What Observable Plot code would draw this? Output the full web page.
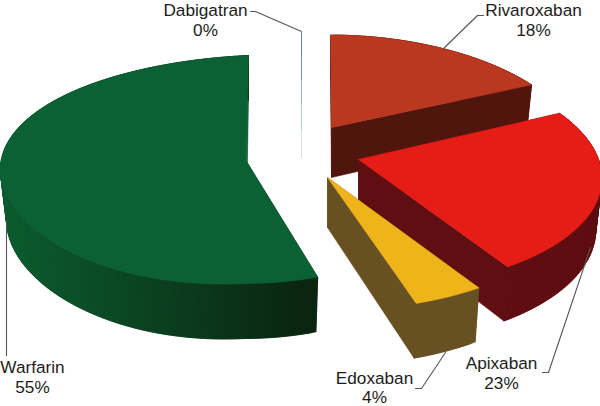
<!DOCTYPE html>
<html>
<head>
<meta charset="utf-8">
<style>html,body{margin:0;padding:0;background:#fff}svg{display:block}</style>
<script src="https://cdn.jsdelivr.net/npm/d3@7"></script>
<script src="https://cdn.jsdelivr.net/npm/@observablehq/plot@0.6"></script>
</head>
<body>
<div id="chart"></div>
<script>
// Data, clockwise from 12 o'clock
const drugs = ["Rivaroxaban", "Apixaban", "Edoxaban", "Warfarin", "Dabigatran"];
const shares = [18, 23, 4, 55, 0];

// Colours per drug
const topColors = ["#ba381f", "#e51d16", "#f0b41b", "#0c6134", "#5b8a92"];
const sideFrom = ["#50150d", "#5f0e12", "#675022", "#0c5c2f", "#5b8a92"];
const sideTo = ["#50150d", "#5f0e12", "#675022", "#0a2510", "#5b8a92"];

// Layout of the exploded 3D pie: wedge tip offset from the pie centre, and per-wedge projection
const pieCentre = [300, 160];
const explode = [[31, -33], [58, -1], [27, 17], [-54, 1], [0, 0]];
const radiusX = [241, 240, 243.5, 246, 0];
const radiusY = [106, 114.7, 118, 114, 0];
const growX = [0.19, 0.15, 0.19, -0.04, 0];
const growY = [0.128, 0.128, 0.128, 0.07, 0];
const lean = [-1, -5, 0, 2, 0];
const tilt = [0, 0, 0, -12, 0];
const thickness = 50, thicknessGrow = 0.1, bottomShrink = 0.975;

// Label layout
const labelX = [533, 501, 374, 32, 205];
const nameY = [10, 363, 378, 367, 10];
const shareY = [30, 383, 396.5, 387, 30];

// Leader lines
const leaders = [
  {id: "Dabigatran", xs: [250, 255, 301], ys: [11, 11, 31]},
  {id: "Rivaroxaban", xs: [483, 477, 443], ys: [15, 15, 48]},
  {id: "Apixaban", xs: [542, 548, 590], ys: [372, 372, 247]},
  {id: "Edoxaban", xs: [415, 421, 445], ys: [388, 388, 352]},
  {id: "Warfarin", xs: [6, 6], ys: [220, 355]}
];
const fadeStops = [31, 55, 80, 105, 130, 158];
const fadeColors = ["#5b8a92", "#73a0a8", "#94b6bc", "#b5cbd0", "#d6e2e5"];

// Geometry derived from the shares
const arcs = d3.pie().sort(null)(shares);
const rows = [];
function polygon(id, color, pts) {
  [...pts, pts[0]].forEach((p, k) => rows.push({id, k, x: p[0], y: p[1], color}));
}
const order = [3, 0, 1, 2];
order.forEach(i => {
  const a = arcs[i];
  const tip = [pieCentre[0] + explode[i][0], pieCentre[1] + explode[i][1]];
  const point = th => {
    const u = Math.sin(th), v = -Math.cos(th);
    return [
      tip[0] + u * radiusX[i] * (1 + growX[i] * v) - lean[i] * v,
      tip[1] + v * radiusY[i] * (1 + growY[i] * v) + tilt[i] * Math.min(u, 0),
      u, v
    ];
  };
  const under = (p, v = 0) => [
    tip[0] + (p[0] - tip[0]) * bottomShrink,
    p[1] + thickness * (1 + thicknessGrow * v)
  ];
  const n = Math.max(2, Math.round((a.endAngle - a.startAngle) / (Math.PI / 180)));
  const ring = d3.range(n + 1).map(k => point(a.startAngle + (a.endAngle - a.startAngle) * k / n));
  const tipPt = [tip[0], tip[1]];
  const side = d3.interpolateRgb(sideFrom[i], sideTo[i]);
  // cut faces
  [ring[0], ring[n]].forEach((p, f) => {
    polygon(`cut${i}-${f}`, side(f ? 0 : 1), [tipPt, p, under(p, p[3]), under(tipPt)]);
  });
  // outer rim: each strip overlaps the next one so no seams show
  for (let k = 0; k < n; k++) {
    const p = ring[k], q = ring[Math.min(n, k + 2)];
    const t = Math.min(1, Math.max(0, (p[2] + 1) / 1.25));
    polygon(`rim${i}-${k}`, side(t), [p, q, under(q, q[3]), under(p, p[3])]);
  }
  // top
  polygon(`top${i}`, topColors[i], [tipPt, ...ring]);
});

const leaderRows = leaders.flatMap(l => l.xs.map((x, k) => ({id: l.id, x, y: l.ys[k]})));
const fadeRows = fadeColors.map((c, k) => ({y1: fadeStops[k], y2: fadeStops[k + 1], c}));
const labels = drugs.map((d, i) => ({d, s: `${shares[i]}%`, x: labelX[i], y1: nameY[i], y2: shareY[i]}));

const textStyle = {fontFamily: "'Liberation Sans', Arial, sans-serif", fontSize: 17.2, fill: "#1c1c1c", textAnchor: "middle"};

const plot = Plot.plot({
  width: 600,
  height: 406,
  margin: 0,
  style: {background: "#fff"},
  x: {domain: [0, 600], range: [0, 600], axis: null},
  y: {domain: [0, 406], range: [0, 406], axis: null},
  color: {type: "identity"},
  marks: [
    Plot.line(rows, {x: "x", y: "y", z: "id", fill: "color", stroke: "color", strokeWidth: 0.6, curve: "linear"}),
    Plot.line(leaderRows, {x: "x", y: "y", z: "id", stroke: "#555", strokeWidth: 1.1, curve: "linear"}),
    Plot.ruleX(fadeRows, {x: () => 301, y1: "y1", y2: "y2", stroke: "c", strokeWidth: 1}),
    Plot.text(labels, {x: "x", y: "y1", text: "d", ...textStyle}),
    Plot.text(labels, {x: "x", y: "y2", text: "s", ...textStyle})
  ]
});
document.getElementById("chart").appendChild(plot);
</script>
</body>
</html>
